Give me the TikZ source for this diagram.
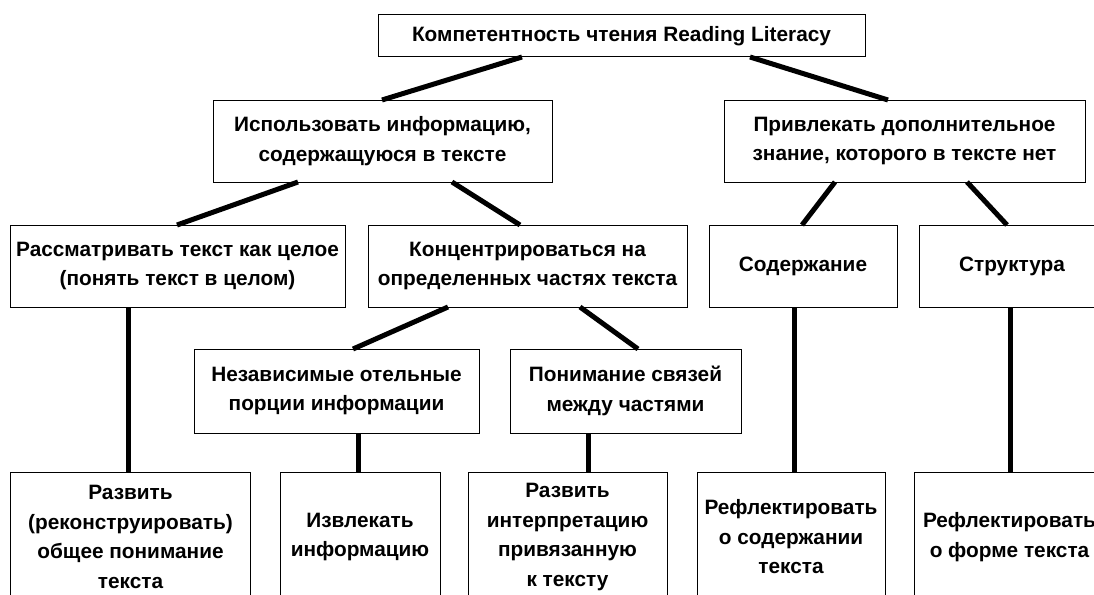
\documentclass[tikz,border=0pt]{standalone}
\usepackage{fontspec}
\setmainfont{Liberation Sans}
\usepackage{tikz}

\begin{document}
\begin{tikzpicture}[x=1pt,y=-1pt]
        \tikzstyle{every node}+=[inner sep=0pt, outer sep=0pt]
        \tikzstyle{box}=[draw, line width=1pt, align=center, font=\fontsize{20.8}{29.5}\selectfont\bfseries]
        \tikzstyle{conn}=[line width=5pt, black]
        \useasboundingbox (0,0) rectangle (1094,594);
        \clip (0,0) rectangle (1094,594);
        \node [box, minimum width=487, minimum height=42] (root) at (621.5,36) {Компетентность чтения Reading Literacy};
        \node [box, minimum width=339, minimum height=82] (use) at (382.5,141) {Использовать информацию,\\содержащуюся в тексте};
        \node [box, minimum width=361, minimum height=82] (add) at (904.5,141) {Привлекать дополнительное\\знание, которого в тексте нет};
        \node [box, minimum width=335, minimum height=82] (whole) at (177.5,266) {Рассматривать текст как целое\\(понять текст в целом)};
        \node [box, minimum width=319, minimum height=82] (parts) at (527.5,266) {Концентрироваться на\\определенных частях текста};
        \node [box, minimum width=188, minimum height=82] (content) at (803,266) {Содержание};
        \node [box, minimum width=186, minimum height=82] (struct) at (1012,266) {Структура};
        \node [box, minimum width=285, minimum height=84] (indep) at (336.5,391) {Независимые отельные\\порции информации};
        \node [box, minimum width=231, minimum height=84] (links) at (625.5,391) {Понимание связей\\между частями};
        \node [box, minimum width=240, minimum height=130] (b1) at (130.5,537) {Развить\\(реконструировать)\\общее понимание\\текста};
        \node [box, minimum width=160, minimum height=130] (b2) at (360,537) {Извлекать\\информацию};
        \node [box, minimum width=199, minimum height=130] (b3) at (567.5,537) {Развить\\интерпретацию\\привязанную\\к тексту};
        \node [box, minimum width=188, minimum height=130] (b4) at (791,537) {Рефлектировать\\о содержании\\текста};
        \node [box, minimum width=191, minimum height=130] (b5) at (1009.5,537) {Рефлектировать\\о форме текста};
        \draw [conn] ([xshift=144]root.south west) -- ([xshift=169]use.north west);
        \draw [conn] ([xshift=372]root.south west) -- ([xshift=164]add.north west);
        \draw [conn] ([xshift=85]use.south west) -- ([xshift=167]whole.north west);
        \draw [conn] ([xshift=239]use.south west) -- ([xshift=152]parts.north west);
        \draw [conn] ([xshift=111]add.south west) -- ([xshift=93]content.north west);
        \draw [conn] ([xshift=243]add.south west) -- ([xshift=88]struct.north west);
        \draw [conn] ([xshift=80]parts.south west) -- ([xshift=159]indep.north west);
        \draw [conn] ([xshift=212]parts.south west) -- ([xshift=128]links.north west);
        \draw [conn] ([xshift=118]whole.south west) -- ([xshift=118]whole.south west |- b1.north);
        \draw [conn] ([xshift=164]indep.south west) -- ([xshift=164]indep.south west |- b2.north);
        \draw [conn] ([xshift=78]links.south west) -- ([xshift=78]links.south west |- b3.north);
        \draw [conn] ([xshift=85]content.south west) -- ([xshift=85]content.south west |- b4.north);
        \draw [conn] ([xshift=91]struct.south west) -- ([xshift=91]struct.south west |- b5.north);
\end{tikzpicture}
\end{document}
